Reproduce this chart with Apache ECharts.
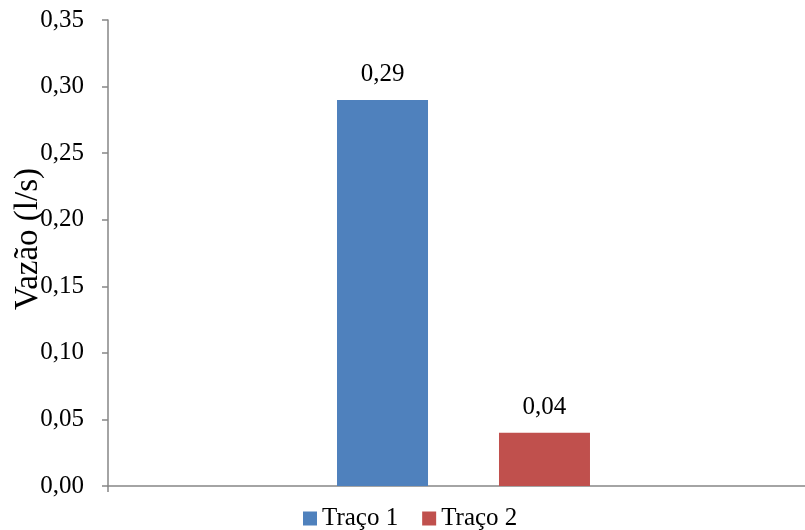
<!DOCTYPE html>
<html>
<head>
<meta charset="utf-8">
<script src="https://cdn.jsdelivr.net/npm/echarts@6/dist/echarts.min.js"></script>
<style>
  html, body { margin: 0; padding: 0; background: #fff; }
  #chart { width: 805px; height: 530px; }
</style>
</head>
<body>
<div id="chart"></div>
<script>
// Flow rate per trace (l/s)
const categories = [''];
const seriesNames = ['Traço 1', 'Traço 2'];
const trace1Values = [0.29];
const trace2Values = [0.04];
const yTicks = { min: 0, max: 0.35, interval: 0.05 };
const yAxisTitle = 'Vazão (l/s)';

const FONT = 'Liberation Serif';
const AXIS_GRAY = '#868686';
const fmt = v => v.toFixed(2).replace('.', ',');

const chart = echarts.init(document.getElementById('chart'), null, { renderer: 'canvas' });

const barLabel = {
  show: true, position: 'top', distance: 13,
  fontFamily: FONT, fontSize: 25, color: '#000',
  formatter: p => fmt(p.value)
};

chart.setOption({
  animation: false,
  textStyle: { fontFamily: FONT },
  // plot area runs a little past the right edge of the canvas
  grid: { left: 108, right: -14, top: 20, bottom: 44, containLabel: false, outerBoundsMode: 'none' },
  legend: {
    data: seriesNames,
    left: 303,
    top: 506,
    padding: 0,
    itemWidth: 14,
    itemHeight: 14,
    itemGap: 24,
    icon: 'rect',
    textStyle: { fontFamily: FONT, fontSize: 25, color: '#000' }
  },
  xAxis: {
    type: 'category',
    data: categories,
    axisLine: { lineStyle: { color: AXIS_GRAY, width: 1.5 } },
    axisTick: { show: true, length: 6, alignWithLabel: false, lineStyle: { color: AXIS_GRAY, width: 1.5 } },
    axisLabel: { show: false },
    splitLine: { show: false }
  },
  yAxis: {
    type: 'value',
    min: yTicks.min,
    max: yTicks.max,
    interval: yTicks.interval,
    name: yAxisTitle,
    nameLocation: 'middle',
    nameRotate: 90,
    nameGap: 63,
    nameMoveOverlap: false,
    nameTextStyle: { fontFamily: FONT, fontSize: 33, color: '#000', padding: [0, 0, 0, 28] },
    axisLine: { show: true, lineStyle: { color: AXIS_GRAY, width: 1.5 } },
    axisTick: { show: true, length: 6, inside: false, lineStyle: { color: AXIS_GRAY, width: 1.5 } },
    axisLabel: { fontFamily: FONT, fontSize: 25, color: '#000', margin: 24, formatter: fmt },
    splitLine: { show: false }
  },
  series: [
    {
      name: seriesNames[0],
      type: 'bar',
      data: trace1Values,
      barWidth: 91,
      barGap: '78%',
      itemStyle: { color: '#4F81BD' },
      label: barLabel
    },
    {
      name: seriesNames[1],
      type: 'bar',
      data: trace2Values,
      barWidth: 91,
      barGap: '78%',
      itemStyle: { color: '#C0504D' },
      label: barLabel
    }
  ]
});
</script>
</body>
</html>
